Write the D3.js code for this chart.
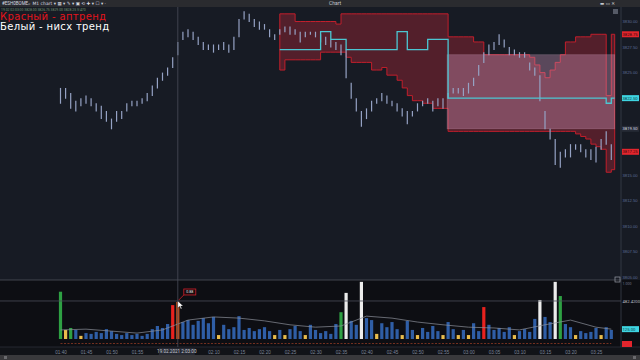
<!DOCTYPE html>
<html>
<head>
<meta charset="utf-8">
<script src="https://cdnjs.cloudflare.com/ajax/libs/d3/7.8.5/d3.min.js"></script>
<style>
  html, body { margin: 0; padding: 0; background: #171b24; overflow: hidden; }
  svg { display: block; font-family: Roboto, "DejaVu Sans", sans-serif; }
  .axis path, .axis line { display: none; }
  .axis text { font-size: 4.2px; }
  .priceAxis text { fill: #5a6a94; }
  .timeAxis text { fill: #7d8598; font-size: 4.6px; }
</style>
</head>
<body>
<div id="chart"></div>
<script>
// one bar per minute, starting 19.02.2021 01:40
const highs = [
   3823.50, 3823.50, 3823.00, 3822.25, 3822.50, 3822.75, 3822.50, 3822.00, 3821.75, 3821.25,
   3820.50, 3821.25, 3821.25, 3822.00, 3822.25, 3822.25, 3822.50, 3823.00, 3823.75, 3824.50,
   3825.00, 3825.50, 3826.50, 3828.00, 3829.00, 3829.25, 3829.00, 3828.50, 3828.00, 3827.75,
   3827.75, 3827.75, 3828.00, 3827.75, 3828.50, 3830.25, 3831.00, 3830.75, 3830.25, 3830.00,
   3829.75, 3829.25, 3828.75, 3829.25, 3829.50, 3829.50, 3829.25, 3829.00, 3829.00, 3829.00,
   3829.00, 3828.75, 3828.50, 3828.25, 3828.00, 3827.75, 3827.25, 3824.00, 3822.50, 3821.25,
   3821.50, 3822.25, 3822.50, 3823.00, 3822.75, 3822.25, 3822.00, 3821.50, 3821.25, 3821.25,
   3822.00, 3822.25, 3822.50, 3822.25, 3822.50, 3822.50, 3823.00, 3823.50, 3823.50, 3823.50,
   3824.00, 3824.50, 3825.75, 3827.00, 3827.75, 3828.00, 3828.75, 3828.25, 3827.50, 3827.25,
   3827.00, 3827.00, 3826.00, 3825.50, 3824.75, 3821.25, 3819.50, 3818.50, 3817.25, 3817.50,
   3818.00, 3818.00, 3818.00, 3817.50, 3817.50, 3817.75, 3818.50, 3819.25, 3818.00
];
const lows = [
   3822.00, 3822.50, 3821.50, 3821.25, 3821.75, 3822.00, 3821.75, 3821.25, 3820.50, 3820.25,
   3819.50, 3820.25, 3820.50, 3821.25, 3821.75, 3821.75, 3822.00, 3822.25, 3822.75, 3823.50,
   3824.25, 3824.75, 3825.50, 3826.75, 3828.25, 3828.50, 3828.25, 3827.75, 3827.25, 3827.25,
   3827.00, 3827.25, 3827.25, 3827.00, 3827.25, 3828.50, 3830.25, 3830.00, 3829.50, 3829.25,
   3829.25, 3828.50, 3828.25, 3828.75, 3829.00, 3828.75, 3828.75, 3828.00, 3828.50, 3828.75,
   3828.50, 3828.00, 3827.75, 3827.50, 3827.25, 3826.75, 3824.50, 3822.50, 3821.25, 3819.75,
   3820.50, 3821.25, 3822.00, 3822.25, 3822.00, 3821.75, 3821.25, 3820.75, 3820.00, 3820.75,
   3821.25, 3821.75, 3822.00, 3821.25, 3821.75, 3821.50, 3822.50, 3823.00, 3823.00, 3822.75,
   3823.00, 3823.75, 3824.75, 3826.00, 3826.75, 3827.25, 3827.75, 3827.50, 3826.75, 3826.75,
   3826.50, 3826.50, 3825.25, 3824.75, 3822.25, 3819.50, 3818.50, 3816.00, 3815.75, 3816.75,
   3816.75, 3817.50, 3817.25, 3816.75, 3816.50, 3816.25, 3817.50, 3818.00, 3816.50
];
const volumes = [
   600, 115, 140, 115, 40, 75, 65, 90, 75, 125,
   100, 65, 50, 75, 50, 65, 40, 65, 125, 165,
   140, 190, 430, 470, 215, 240, 180, 230, 265, 200,
   280, 50, 180, 125, 150, 290, 115, 140, 100, 125,
   150, 100, 50, 115, 50, 125, 165, 100, 50, 180,
   115, 75, 100, 65, 190, 340, 585, 230, 180, 725,
   265, 240, 65, 200, 150, 215, 125, 50, 230, 115,
   50, 140, 90, 165, 100, 50, 215, 125, 50, 115,
   50, 200, 100, 405, 180, 115, 140, 90, 150, 50,
   100, 125, 90, 255, 495, 280, 215, 725, 545, 190,
   150, 50, 100, 75, 90, 140, 50, 150, 115
];
// bar kinds of the volume indicator
const climaxUp = [0, 2, 55, 98];
const climaxDown = [22, 83];
const climaxChurn = [23];
const churn = [56, 59, 94, 97];
const lowVolume = [1, 4, 31, 42, 44, 48, 62, 67, 70, 75, 78, 80, 89, 101, 106];

const volAvgIdx = [0, 5, 10, 15, 20, 25, 30, 35, 40, 45, 50, 55, 60, 65, 70, 75, 80, 85, 90, 95, 100, 105, 108];
const volAvg = [115, 125, 100, 75, 115, 240, 280, 265, 230, 180, 150, 165, 290, 265, 215, 180, 150, 140, 115, 180, 240, 150, 125];

// channel from bar 43 to the last bar
const bandStart = 43;
const bandUpper = [
   3830.75, 3830.75, 3830.75,
   3830.00, 3830.00, 3830.00, 3830.00, 3830.00, 3830.00, 3830.00, 3830.00, 3829.75,
   3830.75, 3830.75, 3830.75, 3830.75, 3830.75, 3830.75, 3830.75, 3830.75, 3830.75, 3830.75, 3830.75,
   3830.75, 3830.75, 3830.75, 3830.75, 3830.75, 3830.75, 3830.75, 3830.75, 3830.75, 3830.75,
   3828.50, 3828.50, 3828.50, 3828.50, 3828.50, 3828.00, 3828.00,
   3826.75, 3826.75, 3826.75, 3826.75, 3826.75, 3826.75, 3826.75, 3826.75, 3826.75,
   3826.50, 3825.75, 3825.00, 3824.50, 3825.25, 3826.00, 3826.75, 3828.00, 3828.00,
   3828.50, 3828.50, 3828.50, 3828.75, 3828.75, 3828.75, 3822.75, 3828.75
];
const bandLower = [
   3825.25, 3826.25, 3826.25, 3826.25, 3826.25, 3826.25, 3826.25, 3826.25,
   3827.00, 3827.00, 3827.00, 3827.00, 3827.00, 3826.50,
   3826.00, 3826.00, 3826.00, 3826.00, 3825.25, 3825.25, 3825.50, 3824.75, 3824.75,
   3824.25, 3823.50, 3822.75, 3822.25, 3822.25, 3822.00, 3822.00, 3821.50, 3821.50, 3821.50,
   3819.25, 3819.25, 3819.25, 3819.25, 3819.25, 3819.25, 3819.25, 3819.25, 3819.25, 3819.25,
   3819.25, 3819.25, 3819.25, 3819.25, 3819.25, 3819.25, 3819.25, 3819.25, 3819.25, 3819.25,
   3819.25, 3819.25, 3819.25, 3819.25, 3819.25,
   3819.00, 3818.75, 3818.50, 3818.00, 3817.75, 3817.50, 3815.25, 3815.50
];
const bandMid = [
   3827.25, 3827.25, 3827.25, 3827.25, 3827.25, 3827.25, 3827.25, 3827.25,
   3829.00, 3829.00, 3828.25, 3828.25, 3828.25,
   3827.25, 3827.25, 3827.25, 3827.25, 3827.25, 3827.25, 3827.25, 3827.25, 3827.25, 3827.25,
   3829.00, 3829.00, 3827.25, 3827.25, 3827.25, 3827.25, 3828.25, 3828.25, 3828.25, 3828.25,
   3822.50, 3822.50, 3822.50, 3822.50, 3822.50, 3822.50, 3822.50, 3822.50, 3822.50, 3822.50,
   3822.50, 3822.50, 3822.50, 3822.50, 3822.50, 3822.50, 3822.50, 3822.50, 3822.50, 3822.50,
   3822.50, 3822.50, 3822.50, 3822.50, 3822.50, 3822.50, 3822.50, 3822.50, 3822.50, 3822.50,
   3822.50, 3822.00, 3822.50
];
// range box
const boxStart = 76;
const boxHigh = 3826.75;
const boxLow = 3819.50;

const lastPrice = 3817.25;
const crossBar = 23;
const crossVolume = 482.42;

const priceTicks = [3830, 3827.5, 3825, 3822.5, 3820, 3817.5, 3815, 3812.5, 3810, 3807.5, 3805];
const legend = ["Красный  - аптренд", "Белый - нисх тренд"];

const width = 640, height = 360;
const axisX = 621;
const split = 280, stripTop = 341, timeTop = 347, scrollTop = 355;

const svg = d3.select('#chart').append('svg')
   .attr('width', width)
   .attr('height', height);

const t0 = new Date(2021, 1, 19, 1, 40);
const barTime = i => d3.timeMinute.offset(t0, i);

const x = d3.scaleTime()
   .domain([t0, barTime(highs.length - 1)])
   .range([60.5, 611.3]);
const y = d3.scaleLinear()
   .domain([3805, 3830])
   .range([277, 21.5]);
const yVol = d3.scaleLinear()
   .domain([0, 850])
   .range([339, 272]);

// backgrounds
svg.append('rect').attr('width', width).attr('height', height).attr('fill', '#171b24');
svg.append('rect').attr('y', split).attr('width', width).attr('height', timeTop - split).attr('fill', '#0d0e13');
svg.append('rect').attr('y', timeTop).attr('width', width).attr('height', scrollTop - timeTop).attr('fill', '#111318');
svg.append('rect').attr('y', scrollTop).attr('width', width).attr('height', height - scrollTop).attr('fill', '#39393c');
svg.append('rect').attr('x', 4).attr('y', scrollTop + 1).attr('width', 3).attr('height', 3).attr('fill', '#6a6a6e');
svg.append('rect').attr('x', 633).attr('y', scrollTop + 1).attr('width', 3).attr('height', 3).attr('fill', '#6a6a6e');
svg.append('rect').attr('width', width).attr('height', 7).attr('fill', '#2a2b2f');

// channel
const band = bandUpper.map((u, i) => ({
   t: barTime(bandStart + i),
   upper: u,
   lower: bandLower[i],
   mid: bandMid[i]
}));
band.push(Object.assign({}, band[band.length - 1], { t: d3.timeSecond.offset(barTime(highs.length - 1), 40) }));

const bandArea = d3.area()
   .curve(d3.curveStepAfter)
   .x(d => x(d.t))
   .y0(d => y(d.lower))
   .y1(d => y(d.upper));

svg.append('path')
   .datum(band)
   .attr('d', bandArea)
   .attr('fill', 'rgba(150,36,52,0.47)')
   .attr('stroke', '#c21f2c')
   .attr('stroke-width', 1);

// range box
const boxEnd = band[band.length - 1].t;
svg.append('rect')
   .attr('x', x(barTime(boxStart)) - 1)
   .attr('y', y(boxHigh))
   .attr('width', x(boxEnd) - x(barTime(boxStart)) + 1)
   .attr('height', y(boxLow) - y(boxHigh))
   .attr('fill', 'rgba(220,160,200,0.34)')
   .attr('stroke', 'rgba(235,190,215,0.25)')
   .attr('stroke-width', 0.8);

// price bars
svg.selectAll('line.bar')
   .data(highs)
   .enter()
   .append('line')
   .attr('class', 'bar')
   .attr('x1', (d, i) => x(barTime(i)))
   .attr('x2', (d, i) => x(barTime(i)))
   .attr('y1', d => y(d))
   .attr('y2', (d, i) => y(lows[i]) + 0.5)
   .attr('stroke', '#95a2c4')
   .attr('stroke-width', 1.2);

// channel middle line
svg.append('path')
   .datum(band)
   .attr('d', d3.line().curve(d3.curveStepAfter).x(d => x(d.t)).y(d => y(d.mid)))
   .attr('fill', 'none')
   .attr('stroke', '#4cc6d2')
   .attr('stroke-width', 1.3);

// volume bars
function volColour(i) {
   if (climaxUp.includes(i)) return '#2ea043';
   if (climaxDown.includes(i)) return '#e8221e';
   if (climaxChurn.includes(i)) return '#c4521c';
   if (churn.includes(i)) return '#ececec';
   if (lowVolume.includes(i)) return '#e9bd4c';
   return '#2f5ea6';
}

svg.selectAll('rect.vol')
   .data(volumes)
   .enter()
   .append('rect')
   .attr('class', 'vol')
   .attr('x', (d, i) => x(barTime(i)) - 1.6)
   .attr('width', 3.2)
   .attr('y', d => yVol(d))
   .attr('height', d => yVol(0) - yVol(d))
   .attr('fill', (d, i) => volColour(i));

svg.append('path')
   .datum(volAvgIdx)
   .attr('d', d3.line().x(d => x(barTime(d))).y((d, i) => yVol(volAvg[i])))
   .attr('fill', 'none')
   .attr('stroke', '#8c919b')
   .attr('stroke-width', 0.7);

// indicator strip
svg.append('line')
   .attr('x1', x(barTime(0))).attr('x2', x(barTime(highs.length - 1)))
   .attr('y1', stripTop + 2.5).attr('y2', stripTop + 2.5)
   .attr('stroke', '#8e3a24')
   .attr('stroke-width', 0.8)
   .attr('stroke-dasharray', '2,1.5');

// panel lines
svg.append('line').attr('x1', 0).attr('x2', axisX).attr('y1', split).attr('y2', split)
   .attr('stroke', '#4f525a').attr('stroke-width', 0.8);
svg.append('line').attr('x1', 0).attr('x2', width).attr('y1', timeTop).attr('y2', timeTop)
   .attr('stroke', '#2c2f38').attr('stroke-width', 0.8);
svg.append('line').attr('x1', axisX).attr('x2', axisX).attr('y1', 7).attr('y2', timeTop)
   .attr('stroke', '#3b3f4b').attr('stroke-width', 0.8);

// crosshair
const cx = x(barTime(crossBar));
const cy = yVol(crossVolume);
svg.append('line').attr('x1', cx).attr('x2', cx).attr('y1', 7).attr('y2', timeTop)
   .attr('stroke', '#4a4d58').attr('stroke-width', 0.8);
svg.append('line').attr('x1', 0).attr('x2', axisX).attr('y1', cy).attr('y2', cy)
   .attr('stroke', '#4a4d58').attr('stroke-width', 0.8);

// axis markers
const f2 = d3.format('.2f');
const priceMarks = [
   { v: bandUpper[bandUpper.length - 1], fill: '#e3252d', ink: '#3a0a0c' },
   { v: bandMid[bandMid.length - 1], fill: '#3fd5e2', ink: '#0b3a40' },
   { v: boxLow, fill: '#262a35', ink: '#d3d7e0' },
   { v: lastPrice, fill: '#e3252d', ink: '#3a0a0c' }
];

// price axis, labels under a marker are hidden
svg.append('g')
   .attr('class', 'axis priceAxis')
   .attr('transform', `translate(${axisX + 1.5}, 0)`)
   .call(d3.axisRight(y).tickValues(priceTicks).tickSize(0).tickPadding(0).tickFormat(f2))
   .selectAll('.tick')
   .filter(d => priceMarks.some(m => Math.abs(y(m.v) - y(d)) < 6))
   .remove();

function marker(yPos, fill, textFill, label) {
   svg.append('rect')
      .attr('x', axisX + 1).attr('y', yPos - 3)
      .attr('width', width - axisX - 2).attr('height', 6)
      .attr('fill', fill);
   svg.append('text')
      .attr('x', axisX + 1.5).attr('y', yPos + 1.6)
      .style('font-size', '4.2px')
      .attr('fill', textFill)
      .text(label);
}
priceMarks.forEach(m => marker(y(m.v), m.fill, m.ink, f2(m.v)));
marker(yVol(volAvg[volAvg.length - 1]), '#3fd5e2', '#0b3a40', f2(volAvg[volAvg.length - 1]));

svg.append('text').attr('x', axisX + 1.5).attr('y', cy + 1.6).style('font-size', '4.2px')
   .attr('fill', '#b8bcc6').text(d3.format('.4f')(crossVolume));
svg.append('text').attr('x', axisX + 1.5).attr('y', split + 5).style('font-size', '3.6px')
   .attr('fill', '#6c7385').text('1.000');
svg.append('rect').attr('x', axisX + 1).attr('y', stripTop).attr('width', 10).attr('height', 6).attr('fill', '#e3252d');
svg.append('rect').attr('x', axisX - 6).attr('y', split - 3).attr('width', 5).attr('height', 5)
   .attr('fill', 'none').attr('stroke', '#9a9ea8').attr('stroke-width', 0.7);
svg.append('rect').attr('x', axisX - 8).attr('y', 9).attr('width', 5).attr('height', 5)
   .attr('fill', '#555a66');

// time axis
const crossLabel = d3.timeFormat('%d.%m.%Y %-H:%M:%S')(barTime(crossBar));
svg.append('g')
   .attr('class', 'axis timeAxis')
   .attr('transform', `translate(0, ${timeTop + 1})`)
   .call(d3.axisBottom(x).ticks(d3.timeMinute.every(5)).tickSize(0).tickPadding(3).tickFormat(d3.timeFormat('%H:%M')))
   .selectAll('.tick')
   .filter(d => Math.abs(x(d) - cx) < 22)
   .remove();

svg.append('rect').attr('x', cx - 19).attr('y', timeTop + 1).attr('width', 36).attr('height', 7).attr('fill', '#262933');
svg.append('text').attr('x', cx - 1).attr('y', timeTop + 6.3).style('font-size', '4.6px')
   .attr('text-anchor', 'middle').attr('fill', '#c9cdd6').text(crossLabel);

// tooltip and cursor
svg.append('path')
   .attr('d', `M${cx + 1},${cy - 1}L${cx + 6},${cy - 6}`)
   .attr('stroke', '#d0202a').attr('stroke-width', 0.8);
svg.append('rect').attr('x', cx + 6).attr('y', cy - 12).attr('width', 12).attr('height', 6)
   .attr('fill', '#1a0c10').attr('stroke', '#d0202a').attr('stroke-width', 0.8);
svg.append('text').attr('x', cx + 12).attr('y', cy - 7.6).attr('text-anchor', 'middle')
   .style('font-size', '3.6px').attr('fill', '#e6e6e6').text('0.88');
svg.append('path')
   .attr('d', `M${cx},${cy}l0,7l1.8,-1.6l1.3,2.6l1,-0.5l-1.2,-2.5l2.4,0z`)
   .attr('fill', '#ffffff').attr('stroke', '#000').attr('stroke-width', 0.3);

// top bar
svg.append('text').attr('x', 335).attr('y', 4.8).attr('text-anchor', 'middle')
   .style('font-size', '5px').attr('fill', '#c4c7ce').text('Chart');
svg.append('text').attr('x', 2).attr('y', 4.8).style('font-size', '4.5px').attr('fill', '#d6d9e0')
   .text('#ESH0BOME');
svg.append('text').attr('x', 28).attr('y', 4.8).style('font-family', '"DejaVu Sans"').style('font-size', '4.5px')
   .attr('fill', '#d6d9e0').text('⌕ M1 chart ▾  ▦ ▾  ✎ ▾  ▣  ⟲  ✚ ▾  ☐ ▾  ·');
svg.append('text').attr('x', 600).attr('y', 4.8).style('font-family', '"DejaVu Sans"').style('font-size', '4.5px')
   .attr('fill', '#c4c7ce').text('▬  ▭  ✕');

// info line
const cross = [highs[crossBar], lows[crossBar], highs[crossBar + 1], lows[crossBar + 1]];
svg.append('text').attr('x', 1).attr('y', 10.5).style('font-size', '3.4px').attr('fill', '#6f9470')
   .text(`19.02 ${d3.timeFormat('%H:%M:%S')(barTime(crossBar))}  ${cross.map(f2).join('  ')}  V:${volumes[crossBar]}`);

// legend
svg.selectAll('text.legend')
   .data(legend)
   .enter()
   .append('text')
   .attr('class', 'legend')
   .attr('x', 0)
   .attr('y', (d, i) => 20 + i * 10)
   .style('font-family', '"DejaVu Sans"')
   .style('font-size', '10px')
   .style('letter-spacing', '0.35px')
   .attr('fill', (d, i) => i === 0 ? '#e3141c' : '#ffffff')
   .text(d => d);
</script>
</body>
</html>
